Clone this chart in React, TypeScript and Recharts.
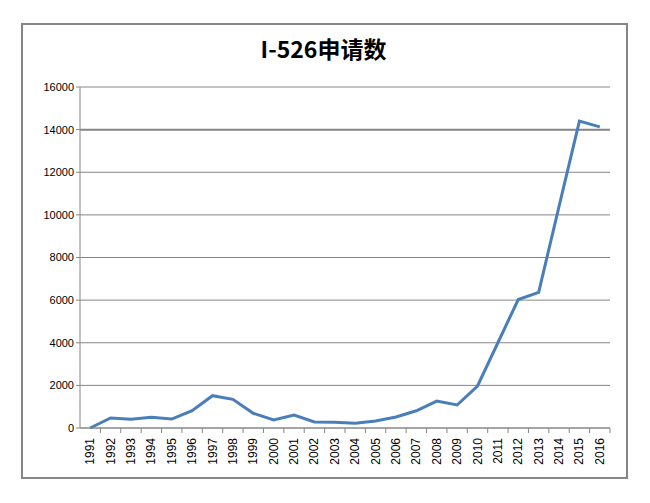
import { LineChart, Line, XAxis, YAxis, CartesianGrid, ReferenceLine } from 'recharts'

const years = [
  '1991', '1992', '1993', '1994', '1995', '1996', '1997', '1998', '1999', '2000',
  '2001', '2002', '2003', '2004', '2005', '2006', '2007', '2008', '2009', '2010',
  '2011', '2012', '2013', '2014', '2015', '2016',
]

const filings = [
  0, 470, 410, 500, 420, 810, 1515, 1345, 690, 375,
  610, 280, 270, 220, 330, 515, 810, 1265, 1080, 1970,
  4000, 6030, 6360, 10400, 14400, 14130,
]

const yTicks = [0, 2000, 4000, 6000, 8000, 10000, 12000, 14000, 16000]

const data = years.map((year, i) => ({ year, count: filings[i] }))

const axisColor = '#868686'
const bandWidth = (650 - 80 - 40) / years.length

const YearTick = (props: any) => {
  const { x, y, payload } = props
  return (
    <g>
      <line x1={x + bandWidth / 2} y1={y - 8} x2={x + bandWidth / 2} y2={y - 3} stroke={axisColor} />
      <text
        x={x}
        y={y + 2}
        dy={4}
        transform={`rotate(-90, ${x}, ${y + 2})`}
        textAnchor="end"
        fontSize={12}
        fontFamily="'Liberation Sans', Arial, sans-serif"
        fill="#000"
      >
        {payload.value}
      </text>
    </g>
  )
}

export default function App() {
  return (
    <div style={{ position: 'absolute', left: 0, top: 0, width: 650, height: 503, background: '#fff' }}>
      <div
        style={{
          position: 'absolute',
          left: 21,
          top: 23,
          width: 603,
          height: 452,
          border: `2px solid ${axisColor}`,
        }}
      />
      <div
        style={{
          position: 'absolute',
          left: 21,
          width: 605,
          top: 31,
          textAlign: 'center',
          fontFamily: "'Noto Sans CJK SC', sans-serif",
          fontWeight: 'bold',
          fontSize: 23,
          color: '#000',
        }}
      >
        I-526申请数
      </div>
      <div style={{ position: 'absolute', left: 0, top: 0 }}>
        <LineChart width={650} height={503} data={data} margin={{ top: 87, right: 40, bottom: 25, left: 0 }}>
          <CartesianGrid vertical={false} stroke={axisColor} />
          <ReferenceLine y={14000} stroke={axisColor} strokeWidth={2} />
          <XAxis
            dataKey="year"
            scale="band"
            interval={0}
            height={50}
            stroke={axisColor}
            tickLine={false}
            tick={<YearTick />}
          />
          <YAxis
            domain={[0, 16000]}
            ticks={yTicks}
            width={80}
            stroke={axisColor}
            tickSize={4}
            tick={{ fill: '#000', fontSize: 11, fontFamily: "'Liberation Sans', Arial, sans-serif" }}
          />
          <Line
            type="linear"
            dataKey="count"
            stroke="#4A7EBB"
            strokeWidth={3}
            dot={false}
            isAnimationActive={false}
          />
        </LineChart>
      </div>
    </div>
  )
}
